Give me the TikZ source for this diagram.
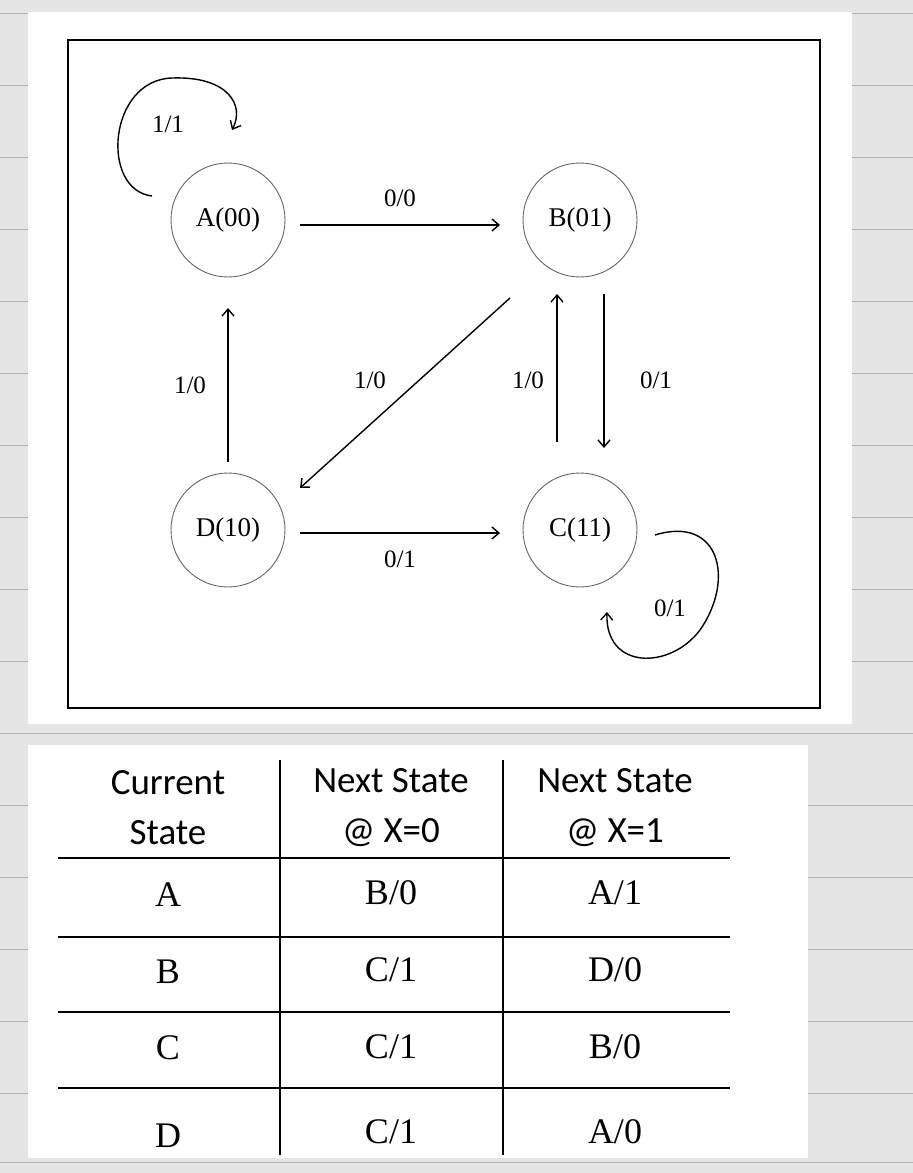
\documentclass[tikz,border=0pt]{standalone}
\usepackage{fontspec}
\setmainfont{Liberation Serif}
\newfontfamily\hdrfont{Carlito}
\usetikzlibrary{arrows.meta}
\begin{document}
\begin{tikzpicture}[x=1pt,y=-1pt,
  st/.style={draw=black!60,line width=0.9pt,circle,minimum size=114pt,inner sep=0pt,font=\fontsize{27}{30}\selectfont},
  lab/.style={font=\fontsize{25}{28}\selectfont},
  arr/.style={line width=1.4pt,-{Straight Barb[length=7pt,width=12pt]}},
  hdr/.style={font=\hdrfont\fontsize{37}{50}\selectfont,align=center},
  cell/.style={font=\fontsize{36}{40}\selectfont},
  tl/.style={line width=1.5pt}]
\useasboundingbox (0,0) rectangle (913,1173);
\fill[black!10] (0,0) rectangle (913,1173);
\foreach \y in {13,85,157,229,301,373,445,517,589,661,733,805,877,949,1021,1093,1162}
  \draw[black!30,line width=0.8pt] (0,\y) -- (913,\y);
\fill[white] (28,12) rectangle (852,724);
\fill[white] (28,745) rectangle (808,1158);
\draw[line width=1.8pt] (68,40) rectangle (820,708);
\node[st] (A) at (228,220) {A(00)};
\node[st] (B) at (580,220) {B(01)};
\node[st] (D) at (228,530) {D(10)};
\node[st] (C) at (580,530) {C(11)};
\coordinate (ab1) at (300,225); \coordinate (ab2) at (500,225);
\draw[arr] (ab1) -- (ab2) node[lab,midway,above=14pt] {0/0};
\coordinate (dc1) at (300,533); \coordinate (dc2) at (500,533);
\draw[arr] (dc1) -- (dc2) node[lab,midway,below=14pt] {0/1};
\coordinate (da1) at (228,462); \coordinate (da2) at (228,308);
\draw[arr] (da1) -- (da2) node[lab,midway,left=18pt] {1/0};
\coordinate (bd1) at (510,298); \coordinate (bd2) at (300,488);
\draw[arr] (bd1) -- (bd2);
\node[lab] (l1) at (370,380) {1/0};
\coordinate (cb1) at (557,442); \coordinate (cb2) at (557,294);
\draw[arr] (cb1) -- (cb2);
\node[lab] (l2) at (528,380) {1/0};
\coordinate (bc1) at (604,294); \coordinate (bc2) at (604,448);
\draw[arr] (bc1) -- (bc2);
\node[lab] (l3) at (656,380) {0/1};
\coordinate (la1) at (152,196); \coordinate (la2) at (232,130);
\draw[arr] (la1) .. controls (100,190) and (108,80) .. (172,78) .. controls (228,76) and (245,105) .. (la2);
\node[lab] (l4) at (168,124) {1/1};
\coordinate (lc1) at (655,535); \coordinate (lc2) at (607,612);
\draw[arr] (lc1) .. controls (720,515) and (735,580) .. (700,630) .. controls (670,670) and (605,670) .. (lc2);
\node[lab] (l5) at (670,608) {0/1};
% table
\draw[tl] (280,760) -- (280,1155);
\draw[tl] (503,760) -- (503,1155);
\foreach \y in {858,937,1012,1088} \draw[tl] (58,\y) -- (730,\y);
\node[hdr] (h1) at (168,808) {Current\\State};
\node[hdr] (h2) at (391,808) {Next State\\@ X=0};
\node[hdr] (h3) at (615,808) {Next State\\@ X=1};
\node[cell] at (168,895) {A}; \node[cell] at (391,893) {B/0}; \node[cell] at (615,893) {A/1};
\node[cell] at (168,972) {B}; \node[cell] at (391,970) {C/1}; \node[cell] at (615,970) {D/0};
\node[cell] at (168,1048) {C}; \node[cell] at (391,1047) {C/1}; \node[cell] at (615,1047) {B/0};
\node[cell] at (168,1136) {D}; \node[cell] at (391,1132) {C/1}; \node[cell] at (615,1132) {A/0};
\end{tikzpicture}
\end{document}
